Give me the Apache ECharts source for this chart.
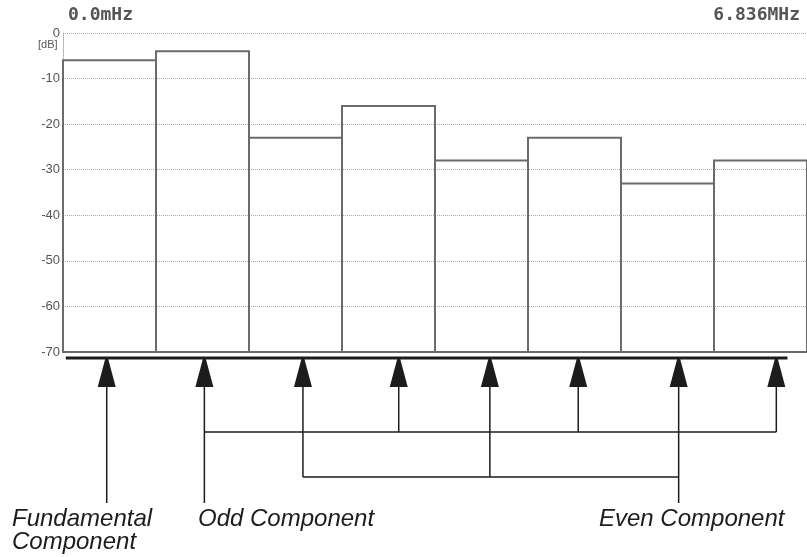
<!DOCTYPE html>
<html>
<head>
<meta charset="utf-8">
<script src="https://cdn.jsdelivr.net/npm/echarts@6/dist/echarts.min.js"></script>
<style>
  html, body { margin: 0; padding: 0; background: #fff; }
  #chart { width: 807px; height: 557px; }
</style>
</head>
<body>
<div id="chart"></div>
<script>
// harmonic spectrum (dB), one bar per harmonic
const harmonics = ['1', '2', '3', '4', '5', '6', '7', '8']
const levels = [-6, -4, -23, -16, -28, -23, -33, -28]
const yTicks = [0, -10, -20, -30, -40, -50, -60, -70]
const freqStart = '0.0mHz'
const freqEnd = '6.836MHz'

// annotation diagram below the spectrum (positions in harmonic units)
const arrowPos = [0.47, 1.52, 2.58, 3.61, 4.59, 5.54, 6.62, 7.67]
const arrowGroup = ['fund', 'odd', 'even', 'odd', 'even', 'odd', 'even', 'odd']
const groupLabels = { fund: 'Fundamental\nComponent', odd: 'Odd Component', even: 'Even Component' }

const yMin = -70
const TIP = 7, BASE = 35, ODD_BUS = 80, EVEN_BUS = 125, LABEL_END = 151
const ink = '#1c1c1c'

const chart = echarts.init(document.getElementById('chart'))

const oddIdx = arrowGroup.map((g, i) => g === 'odd' ? i : -1).filter(i => i >= 0)
const evenIdx = arrowGroup.map((g, i) => g === 'even' ? i : -1).filter(i => i >= 0)
const busDepth = { fund: LABEL_END, odd: ODD_BUS, even: EVEN_BUS }
// the stem carrying the label runs further down
const labelStem = { fund: 0, odd: oddIdx[0], even: evenIdx[evenIdx.length - 1] }

const stems = arrowPos.map((p, i) => {
  const g = arrowGroup[i]
  return [p, labelStem[g] === i ? LABEL_END : busDepth[g]]
})
const buses = [
  [arrowPos[oddIdx[0]], arrowPos[oddIdx[oddIdx.length - 1]], ODD_BUS],
  [arrowPos[evenIdx[0]], arrowPos[evenIdx[evenIdx.length - 1]], EVEN_BUS]
]

const labelFont = 'italic 24px "Liberation Sans", sans-serif'

chart.setOption({
  animation: false,
  grid: [
    { left: 63, right: 0, top: 33, bottom: 205 },
    { left: 63, right: 0, top: 352, bottom: 0 }
  ],
  xAxis: [
    { type: 'category', data: harmonics, gridIndex: 0, boundaryGap: true,
      axisLine: { show: true, onZero: false, lineStyle: { color: '#777', width: 2 } },
      axisTick: { show: false }, axisLabel: { show: false } },
    { type: 'value', gridIndex: 1, min: 0, max: 8, show: false }
  ],
  yAxis: [
    { type: 'value', gridIndex: 0, min: yMin, max: 0, interval: 10,
      axisLine: { show: true, lineStyle: { color: '#aaa', type: 'dotted', width: 1 } },
      axisTick: { show: false },
      axisLabel: { color: '#555', fontSize: 13, margin: 3,
        fontFamily: "'Liberation Sans Narrow', 'Liberation Sans', sans-serif",
        formatter: v => yTicks.includes(v) ? String(v) : '' },
      splitLine: { lineStyle: { color: '#aaa', type: 'dotted', width: 1 } } },
    { type: 'value', gridIndex: 1, min: 0, max: 205, inverse: true, show: false }
  ],
  graphic: [
    { type: 'text', left: 68, top: 6, style: { text: freqStart, fill: '#555',
      font: 'bold 18px "DejaVu Sans Mono", monospace' } },
    { type: 'text', right: 7, top: 6, style: { text: freqEnd, fill: '#555',
      font: 'bold 18px "DejaVu Sans Mono", monospace' } },
    { type: 'text', left: 38, top: 39, style: { text: '[dB]', fill: '#555',
      font: '11px "Liberation Sans", sans-serif' } },
    { type: 'text', left: 12, top: 507, style: { text: groupLabels.fund, fill: ink, lineHeight: 23,
      font: labelFont } },
    { type: 'text', left: 198, top: 507, style: { text: groupLabels.odd, fill: ink, lineHeight: 23,
      font: labelFont } },
    { type: 'text', left: 599, top: 507, style: { text: groupLabels.even, fill: ink, lineHeight: 23,
      font: labelFont } }
  ],
  series: [
    {
      type: 'custom', xAxisIndex: 0, yAxisIndex: 0,
      data: levels.map((v, i) => [i, v]),
      renderItem: (params, api) => {
        const i = api.value(0)
        const top = api.coord([i, api.value(1)])
        const bottom = api.coord([i, yMin])
        const w = api.size([1, 0])[0]
        return { type: 'rect',
          shape: { x: top[0] - w / 2, y: top[1], width: w, height: bottom[1] - top[1] },
          style: { fill: 'none', stroke: '#6b6b6b', lineWidth: 2 } }
      }
    },
    {
      // thick baseline under the spectrum
      type: 'line', xAxisIndex: 1, yAxisIndex: 1, symbol: 'none',
      data: [[0.03, 6], [7.79, 6]],
      lineStyle: { color: ink, width: 3 }
    },
    {
      // arrows and their stems
      type: 'custom', xAxisIndex: 1, yAxisIndex: 1,
      data: stems,
      renderItem: (params, api) => {
        const x = api.value(0)
        const tip = api.coord([x, TIP])
        const base = api.coord([x, BASE])
        const end = api.coord([x, api.value(1)])
        return { type: 'group', children: [
          { type: 'line', shape: { x1: base[0], y1: base[1], x2: end[0], y2: end[1] },
            style: { stroke: ink, lineWidth: 1.5 } },
          { type: 'polygon', shape: { points: [
              [tip[0] - 1.5, tip[1]], [tip[0] + 1.5, tip[1]],
              [base[0] + 9, base[1]], [base[0] - 9, base[1]]] },
            style: { fill: ink } }
        ] }
      }
    },
    {
      // horizontal busses joining odd / even components
      type: 'custom', xAxisIndex: 1, yAxisIndex: 1,
      data: buses,
      renderItem: (params, api) => {
        const a = api.coord([api.value(0), api.value(2)])
        const b = api.coord([api.value(1), api.value(2)])
        return { type: 'line', shape: { x1: a[0], y1: a[1], x2: b[0], y2: b[1] },
          style: { stroke: ink, lineWidth: 1.5 } }
      }
    }
  ]
})
</script>
</body>
</html>
